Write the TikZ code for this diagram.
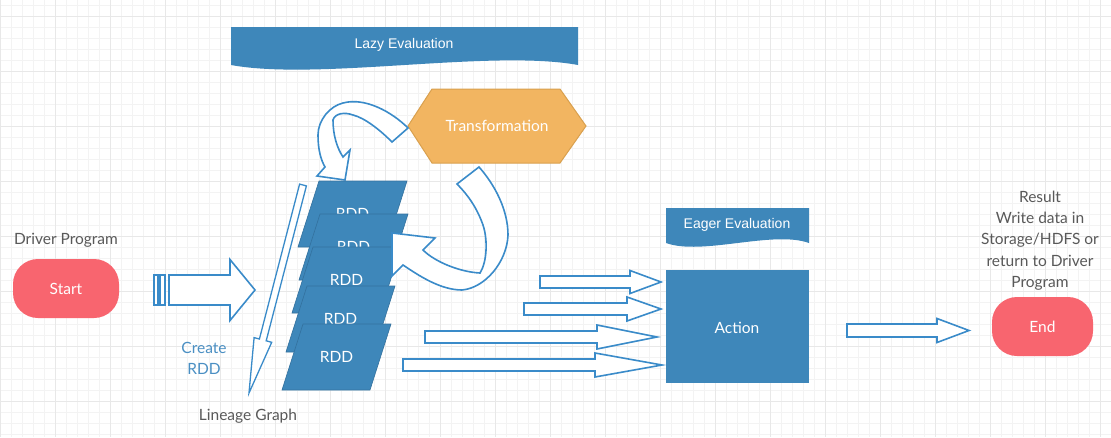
\documentclass[tikz,border=0pt]{standalone}
\usepackage{fontspec}
\setmainfont{Lato}
\newfontfamily\arialf{Liberation Sans}
\definecolor{bfill}{HTML}{3E87BA}
\definecolor{bedge}{HTML}{33719E}
\definecolor{aline}{HTML}{3A8BC9}
\definecolor{ofill}{HTML}{F2B561}
\definecolor{oedge}{HTML}{D9A04E}
\definecolor{rfill}{HTML}{F8656F}
\definecolor{tgray}{HTML}{595959}
\definecolor{tblue}{HTML}{4A8FC3}
\definecolor{gmin}{HTML}{F3F3F3}
\definecolor{gmaj}{HTML}{E8E8E8}
\newcommand\blkarrow[6]{%
  \draw[arrowline] (#1,#4-#5) -- (#2,#4-#5) -- (#2,#4-#6) -- (#3,#4) -- (#2,#4+#6) -- (#2,#4+#5) -- (#1,#4+#5) -- cycle;}
\newcommand\rddshape[3]{%
  \filldraw[rddbox] (#2,#3) -- (#2+88,#3) -- (#2+67,#3+66) -- (#2-21,#3+66) -- cycle;
  \node[wtxt] (#1) at (#2+33.5,#3+33) {RDD};}
\begin{document}
\begin{tikzpicture}[x=1pt,y=-1pt,
  txt/.style={font=\fontsize{15.5}{18}\selectfont},
  wtxt/.style={txt,text=white},
  btxt/.style={text=white,font=\arialf\fontsize{14}{17}\selectfont},
  arrowline/.style={draw=aline,line width=1.6pt,fill=white,line join=miter},
  rddbox/.style={fill=bfill,draw=bedge,line width=0.6pt},
  pill/.style={fill=rfill,rounded corners=25pt,minimum width=106pt,minimum height=59pt,wtxt,inner sep=0pt}]
\useasboundingbox (0,0) rectangle (1111,437);
\fill[white] (0,0) rectangle (1111,437);
\foreach \i in {0,...,101} \draw[gmin,line width=0.5pt] (11*\i,0) -- (11*\i,437);
\foreach \j in {0,...,39} \draw[gmin,line width=0.5pt] (0,5+11*\j) -- (1111,5+11*\j);
\foreach \i in {0,...,20} \draw[gmaj,line width=0.8pt] (55*\i,0) -- (55*\i,437);
\foreach \j in {0,...,7} \draw[gmaj,line width=0.8pt] (0,16+55*\j) -- (1111,16+55*\j);

% banners
\fill[bfill] (231,27) -- (578,27) -- (578,65) .. controls (491,49) and (318,81) .. (231,65) -- cycle;
\node[btxt] (lazy) at (404,45) {Lazy Evaluation};
\fill[bfill] (666,208) -- (809,208) -- (809,243) .. controls (773,230) and (702,256) .. (666,243) -- cycle;
\node[btxt] (eager) at (737,225) {Eager Evaluation};

% transformation
\filldraw[fill=ofill,draw=oedge,line width=1pt] (408,126) -- (432,89) -- (560,89) -- (586,126) -- (560,163) -- (432,163) -- cycle;
\node[wtxt] (trans) at (497,126) {Transformation};

% upper curved arrow
\draw[arrowline] (408,128) .. controls (392,112) and (365,97) .. (343,103) .. controls (330,106) and (318,120) .. (318,135) .. controls (318,150) and (321,160) .. (325,167) -- (317,176) -- (345,180) -- (350,150) -- (343,157) .. controls (337,148) and (333,135) .. (333,120) .. controls (335,113) and (345,112) .. (353,115) .. controls (365,118) and (380,130) .. (392,142) -- cycle;

% start
\node[txt,text=tgray] (driver) at (66,240) {Driver Program};
\node[pill] (start) at (66,288.5) {Start};
\draw[arrowline] (154,275) rectangle (158,305);
\draw[arrowline] (160,275) rectangle (165,305);
\blkarrow{169}{230}{255}{290}{15}{30.5}

% lineage
\draw[arrowline,line width=1.3pt] (306.4,185.9) -- (266.2,340.8) -- (271.7,342.3) -- (249,393) -- (254.1,337.6) -- (259.4,339.0) -- (299.6,184.1) -- cycle;
\node[txt,text=tblue,align=center,font=\fontsize{15.5}{21}\selectfont] (create) at (204,358) {Create\\RDD};
\node[txt,text=tgray] (lineage) at (248,416) {Lineage Graph};

% RDDs
\rddshape{r1}{319}{181}
\rddshape{r2}{320}{214}
\rddshape{r3}{313}{247}
\rddshape{r4}{307}{286}
\rddshape{r5}{303}{324}

% lower curved arrow
\draw[arrowline] (392,233) -- (435,238) -- (423,250) .. controls (435,262) and (460,272) .. (480,273) .. controls (487,262) and (488,240) .. (483,225) .. controls (477,208) and (468,195) .. (457,184) -- (479,167) .. controls (495,185) and (508,210) .. (508,235) .. controls (507,262) and (485,288) .. (462,290) .. controls (440,290) and (418,275) .. (403,265) -- (392,276) -- cycle;

% action arrows
\blkarrow{540}{630}{661}{282}{6}{11.5}
\blkarrow{524}{627}{661}{309}{6}{12}
\blkarrow{425}{597}{657}{337}{6}{12}
\blkarrow{403}{595}{662}{365}{6}{12}

% action
\fill[bfill] (666,270) rectangle (809,383);
\node[wtxt] (action) at (737,328) {Action};

% end
\blkarrow{847}{937}{969}{330.5}{6.5}{12}
\node[pill,minimum width=101pt] (end) at (1042.5,326.5) {End};
\node[txt,text=tgray,align=center,font=\fontsize{15.5}{21.3}\selectfont] (result) at (1040,240.5) {Result\\Write data in\\Storage/HDFS or\\return to Driver\\Program};
\end{tikzpicture}
\end{document}
